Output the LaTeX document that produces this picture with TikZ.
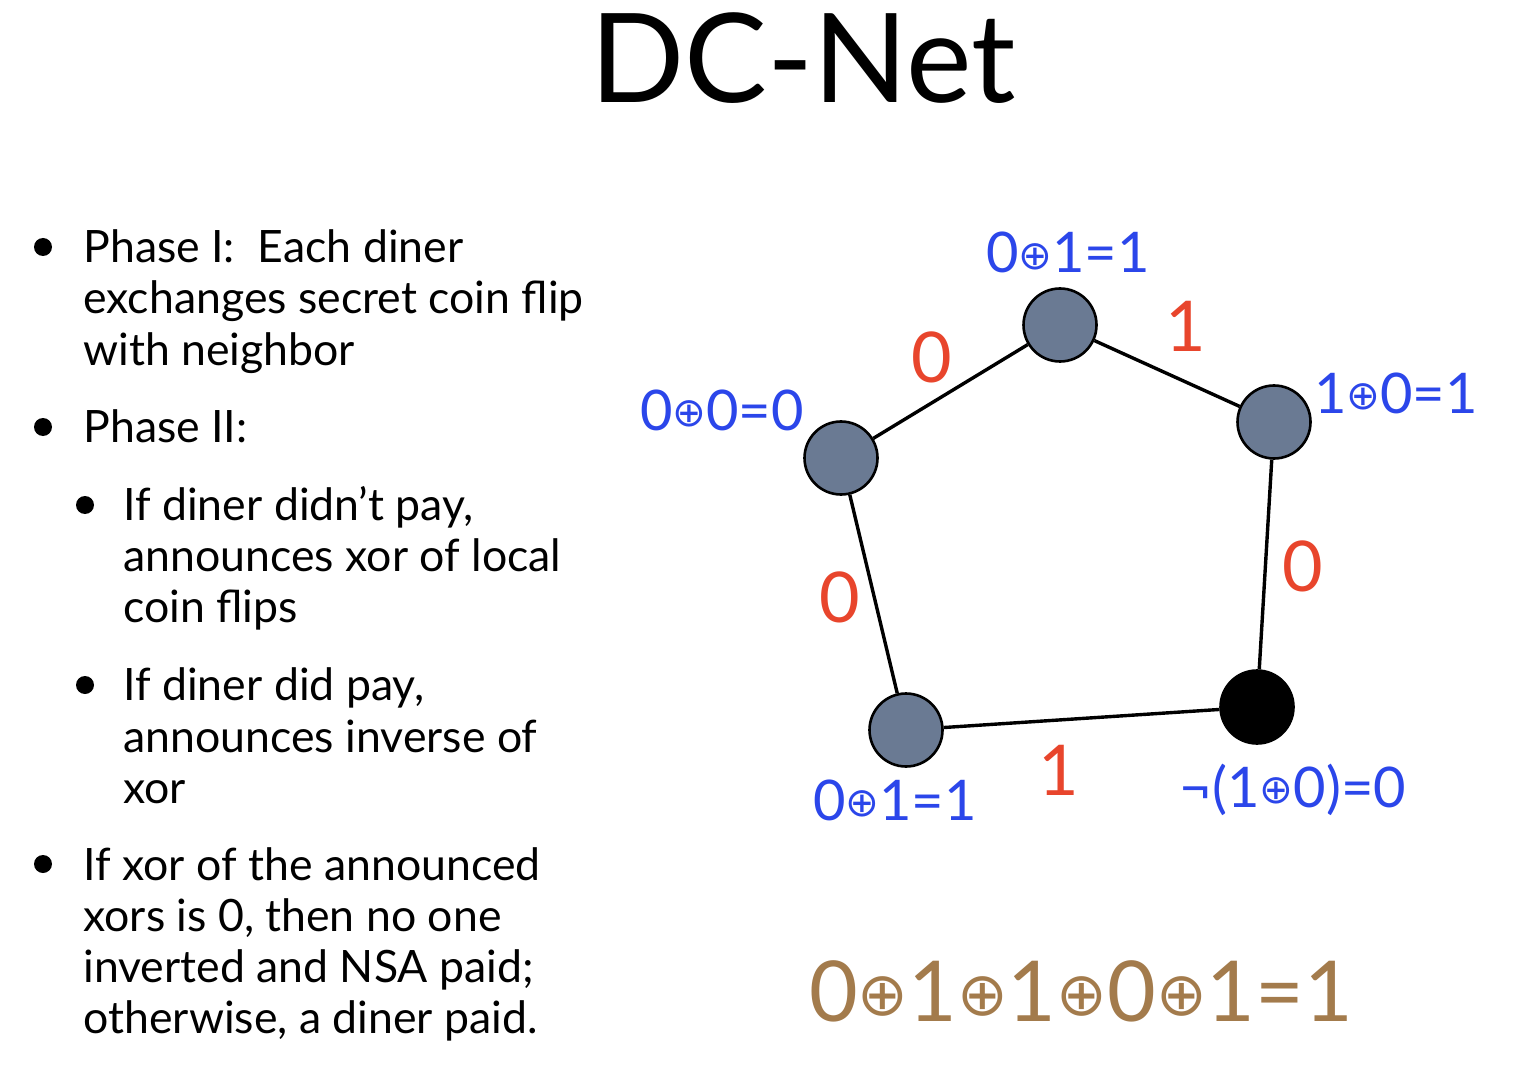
\documentclass[tikz,border=0pt]{standalone}
\usepackage{fontspec}
\setmainfont{Lato}
\newfontfamily\symfont{DejaVu Sans}
\definecolor{edgered}{HTML}{E8452C}
\definecolor{annblue}{HTML}{2B46EA}
\definecolor{sumbrown}{HTML}{A37B4C}
\definecolor{dinerfill}{HTML}{6A7A93}
\newcommand\xo{\raisebox{0.06em}{\scalebox{0.72}{\symfont ⊕}}}
\begin{document}
\begin{tikzpicture}[x=0.5pt,y=-0.5pt,
  diner/.style={circle,draw=black,line width=1.3pt,fill=dinerfill,minimum size=36.5pt,inner sep=0pt},
  payer/.style={diner,fill=black},
  link/.style={line width=1.7pt},
  coin/.style={anchor=base,inner sep=0pt,text=edgered,font=\fontsize{35}{35}\selectfont},
  ann/.style={anchor=base,inner sep=0pt,text=annblue,font=\fontsize{28}{28}\selectfont},
  bodytext/.style={anchor=base west,inner sep=0pt,font=\fontsize{22.3}{26}\selectfont},
  bul/.style={circle,fill=black,minimum size=9pt,inner sep=0pt}]
\useasboundingbox[fill=white] (0,0) rectangle (1530,1080);

\node[anchor=base,inner sep=0pt,font=\fontsize{62}{62}\selectfont] (title) at (803,103) {DC-Net};

% bullets
\node[bul] (d1) at (43,247) {};
\node[bodytext] (t1a) at (83,263) {Phase I:\ \ Each diner};
\node[bodytext] (t1b) at (83,314) {exchanges secret coin flip};
\node[bodytext] (t1c) at (83,365) {with neighbor};
\node[bul] (d2) at (43,427) {};
\node[bodytext] (t2a) at (83,442) {Phase II:};
\node[bul] (d3) at (85,505) {};
\node[bodytext] (t3a) at (123,520) {If diner didn’t pay,};
\node[bodytext] (t3b) at (123,571) {announces xor of local};
\node[bodytext] (t3c) at (123,622) {coin flips};
\node[bul] (d4) at (85,685) {};
\node[bodytext] (t4a) at (123,700) {If diner did pay,};
\node[bodytext] (t4b) at (123,752) {announces inverse of};
\node[bodytext] (t4c) at (123,803) {xor};
\node[bul] (d5) at (43,864) {};
\node[bodytext] (t5a) at (83,880) {If xor of the announced};
\node[bodytext] (t5b) at (83,931) {xors is 0, then no one};
\node[bodytext] (t5c) at (83,982) {inverted and NSA paid;};
\node[bodytext] (t5d) at (83,1033) {otherwise, a diner paid.};

% diners
\node[diner] (T) at (1060,325) {};
\node[diner] (R) at (1274,422) {};
\node[diner] (L) at (841,458) {};
\node[diner] (BL) at (906,730) {};
\node[payer] (BR) at (1257,707) {};

\draw[link] (L) -- (T);
\draw[link] (T) -- (R);
\draw[link] (R) -- (BR);
\draw[link] (BR) -- (BL);
\draw[link] (BL) -- (L);

% coin flips
\node[coin] (cLT) at (932,382) {0};
\node[coin] (cTR) at (1186,352) {1};
\node[coin] (cR) at (1303,591) {0};
\node[coin] (cL) at (840,622) {0};
\node[coin] (cB) at (1059,795) {1};

% announcements
\node[ann] (aT) at (1068,273) {0\xo1=1};
\node[ann] (aR) at (1396,413) {1\xo0=1};
\node[ann] (aL) at (722,430) {0\xo0=0};
\node[ann] (aBL) at (895,820) {0\xo1=1};
\node[ann] (aBR) at (1293,807) {¬(1\xo0)=0};

\node[anchor=base,inner sep=0pt,text=sumbrown,font=\fontsize{42}{42}\selectfont] (sum) at (1081,1021) {0\xo1\xo1\xo0\xo1=1};
\end{tikzpicture}
\end{document}
